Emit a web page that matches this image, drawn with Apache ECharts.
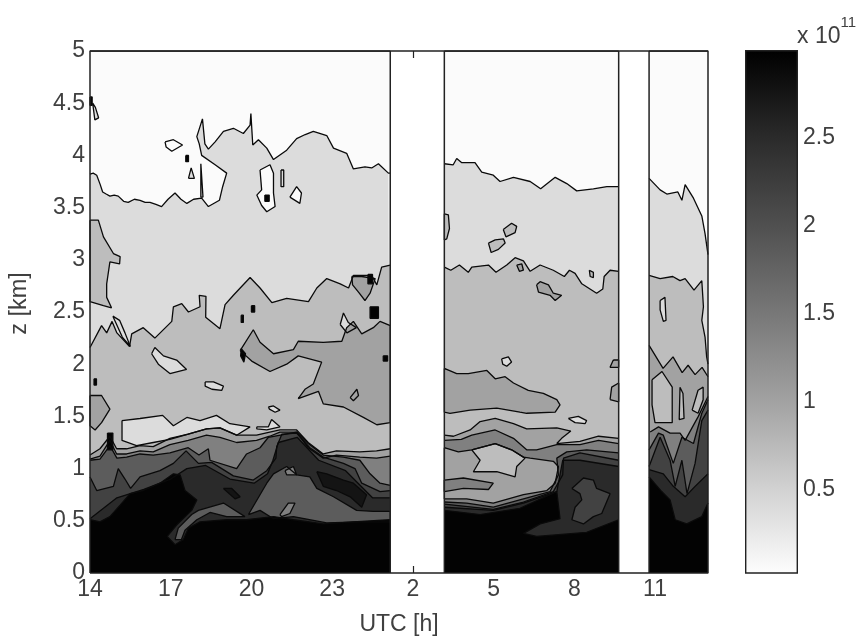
<!DOCTYPE html>
<html><head><meta charset="utf-8">
<style>html,body{margin:0;padding:0;background:#fff}#c{width:860px;height:636px}</style>
<script src="https://cdn.jsdelivr.net/npm/echarts@6/dist/echarts.min.js"></script>
</head><body><div id="c"></div>
<script>
const tickHours=[14,17,20,23,26,29,32,35];
const tickLabels=['14','17','20','23','2','5','8','11'];
const zTicks=[0,0.5,1,1.5,2,2.5,3,3.5,4,4.5,5];
const cbarTicks=[0.5,1,1.5,2,2.5];
const tMax=36.97;
const levelColors=['#fbfbfb','#dcdcdc','#bdbdbd','#a2a2a2','#808080','#5c5c5c','#424242','#2a2a2a','#141414','#030303'];

const topLayer=[[[14,5],[25.16,5]],[[27.17,5],[33.65,5]],[[34.78,5],[36.97,5]]];
const contour1=[
[[14,3.82],[14.12,3.83],[14.25,3.81],[14.38,3.72],[14.47,3.65],[14.6,3.63],[14.74,3.61],[14.9,3.62],[15.05,3.61],[15.25,3.56],[15.42,3.55],[15.65,3.58],[15.86,3.57],[16.05,3.55],[16.23,3.55],[16.45,3.53],[16.66,3.51],[16.9,3.58],[17.16,3.64],[17.38,3.58],[17.6,3.54],[17.85,3.58],[18.15,3.59],[18.4,3.51],[18.81,3.57],[18.93,3.7],[19.08,3.83],[18.65,3.91],[18.15,4.0],[18.06,4.11],[17.97,4.18],[18.18,4.35],[18.27,4.11],[18.4,4.06],[18.65,4.13],[18.96,4.23],[19.33,4.26],[19.7,4.21],[19.95,4.29],[19.98,4.4],[20.05,4.1],[20.26,4.15],[20.57,4.07],[20.82,3.96],[21.31,4.05],[21.68,4.16],[22,4.2],[22.3,4.23],[22.8,4.19],[23.05,4.07],[23.54,4.02],[23.79,3.87],[24.22,3.89],[24.47,3.88],[24.72,3.92],[25.09,3.83],[25.16,3.83]],
[[27.17,3.92],[27.5,3.91],[27.63,3.97],[27.82,3.93],[28.31,3.93],[28.56,3.84],[28.99,3.81],[29.24,3.75],[29.74,3.79],[30.36,3.75],[30.75,3.68],[31.29,3.79],[31.72,3.73],[32.09,3.66],[32.71,3.68],[33.21,3.7],[33.65,3.7]],
[[34.78,3.78],[35.19,3.67],[35.44,3.63],[35.85,3.65],[36,3.57],[36.12,3.72],[36.43,3.59],[36.74,3.42],[36.86,3.25],[36.97,3.05]]];
const contour2=[
[[14,2.16],[14.43,2.37],[14.62,2.3],[14.82,2.41],[15,2.3],[15.47,2.17],[15.55,2.29],[15.98,2.35],[16.41,2.25],[17.04,2.41],[17.1,2.55],[17.41,2.58],[17.66,2.5],[18.09,2.55],[18.06,2.66],[18.31,2.65],[18.3,2.45],[18.83,2.34],[19.02,2.57],[19.33,2.66],[19.95,2.83],[20.32,2.73],[20.76,2.59],[21.31,2.63],[22.12,2.6],[22.43,2.73],[22.8,2.82],[23.3,2.77],[23.61,2.73],[23.79,2.85],[24.47,2.85],[24.66,2.76],[24.84,2.93],[25.16,2.95]],
[[27.17,2.93],[27.41,2.9],[27.73,2.95],[28.06,2.88],[28.19,2.93],[28.81,2.95],[29.09,2.88],[29.49,2.95],[29.8,3.02],[30.11,2.99],[30.36,2.89],[30.73,2.95],[31.22,2.9],[31.63,2.84],[31.82,2.9],[32.03,2.87],[32.28,2.77],[32.83,2.68],[33.06,2.72],[33.11,2.84],[33.33,2.9],[33.65,2.89]],
[[34.78,2.85],[35.19,2.82],[35.66,2.84],[35.93,2.8],[36.12,2.82],[36.45,2.71],[36.74,2.8],[36.8,2.55],[36.74,2.42],[36.86,2.26],[36.92,2.07],[36.97,2.0]]];
const contour3=[
[[14,1.13],[14.37,1.19],[14.74,1.31],[14.99,1.19],[15.36,1.19],[15.86,1.22],[16.35,1.21],[16.97,1.29],[17.65,1.33],[18.33,1.38],[18.83,1.39],[19.45,1.32],[20.19,1.32],[20.68,1.35],[21.06,1.37],[21.68,1.37],[22.11,1.25],[22.67,1.14],[23.16,1.17],[24.03,1.16],[24.65,1.17],[25.16,1.19]],
[[27.17,1.32],[27.51,1.31],[28.13,1.37],[28.5,1.45],[29.06,1.48],[29.74,1.43],[30.23,1.38],[31.35,1.39],[31.87,1.36],[31.53,1.29],[31.35,1.24],[32.21,1.26],[32.9,1.31],[33.65,1.29]],
[[34.78,2.18],[35.3,1.96],[35.67,2.07],[36.01,1.92],[36.23,1.99],[36.49,1.9],[36.75,1.97],[36.97,1.88]]];
const contour4=[
[[14,1.09],[14.37,1.12],[14.74,1.27],[14.99,1.14],[15.36,1.14],[15.86,1.17],[16.35,1.16],[16.97,1.23],[17.65,1.27],[18.33,1.32],[18.83,1.3],[19.45,1.25],[20.19,1.27],[20.68,1.31],[21.06,1.35],[21.68,1.35],[22.11,1.2],[22.67,1.1],[23.16,1.13],[24.03,1.11],[24.65,1.1],[25.16,1.12]],
[[27.17,1.27],[27.8,1.28],[28.19,1.32],[29.06,1.37],[29.74,1.29],[30.23,1.18],[30.6,1.18],[31.35,1.23],[32.21,1.23],[32.9,1.27],[33.65,1.24]],
[[34.82,1.35],[35.13,1.4],[35.56,1.34],[35.93,1.34],[36.12,1.27],[36.61,1.5],[36.97,1.69]]];
const contour5=[
[[14,1.08],[14.37,1.09],[14.74,1.22],[15,1.1],[15.36,1.11],[15.86,1.14],[16.35,1.13],[16.97,1.15],[17.65,1.2],[18.05,1.13],[18.4,1.19],[18.46,1.08],[19.45,1.0],[19.82,1.14],[20.32,1.2],[20.63,1.3],[21.68,1.35],[22.11,1.24],[22.67,1.13],[23.42,1.11],[24.03,1.08],[24.41,0.95],[24.78,0.86],[25.16,0.84]],
[[27.17,0.68],[28,0.67],[28.99,0.63],[30.11,0.71],[31.1,0.78],[31.41,0.94],[31.35,1.1],[31.72,1.16],[32.46,1.18],[33.65,1.15]],
[[34.78,1.18],[35.13,1.34],[35.31,1.32],[35.68,1.05],[36,1.3],[36.43,1.24],[36.74,1.53],[36.97,1.66]]];
const contour6=[
[[14,0.92],[14.25,0.79],[14.87,0.83],[15.05,1.0],[15.3,0.9],[15.51,0.81],[15.86,0.92],[16.6,0.98],[17.1,1.05],[17.57,1.17],[18.03,1.05],[18.52,1.06],[19.33,0.93],[20.07,0.89],[20.57,0.98],[20.91,1.1],[20.94,1.21],[21.13,1.33],[21.68,1.34],[22.17,1.2],[22.67,1.11],[23.42,1.05],[23.85,1.0],[24.1,0.86],[24.78,0.78],[25.16,0.79]],
[[27.17,0.66],[28.99,0.61],[30.11,0.68],[31.22,0.78],[31.57,0.94],[31.6,1.1],[32.21,1.15],[33.65,1.08]],
[[34.78,1.02],[35.19,1.3],[35.56,1.08],[35.75,0.83],[36,1.08],[36.19,0.76],[36.49,1.05],[36.74,1.46],[36.97,1.56]]];
const contour7=[
[[14,0.52],[15,0.72],[16,0.8],[17,0.9],[17.6,1.0],[18.3,1.03],[19.2,0.9],[20.1,0.86],[20.6,0.95],[20.8,1.08],[21,1.25],[21.7,1.3],[22.5,1.08],[23.5,0.98],[24.5,0.72],[25.16,0.72]],
[[27.17,0.63],[28.99,0.6],[30.11,0.67],[31.35,0.78],[31.57,1.08],[32.21,1.08],[33.65,1.02]],
[[34.78,0.99],[35.31,0.95],[35.68,0.83],[36.12,0.73],[36.49,0.83],[36.97,0.95]]];
const contour9=[
[[14,0.51],[14.37,0.49],[14.74,0.54],[15.12,0.65],[15.49,0.76],[15.98,0.79],[16.6,0.86],[17.1,0.95],[17.35,0.94],[17.53,0.79],[17.97,0.7],[17.78,0.6],[17.22,0.46],[16.87,0.35],[17.16,0.27],[17.47,0.32],[17.66,0.43],[18.09,0.49],[19.08,0.51],[19.82,0.51],[20.82,0.54],[21.56,0.51],[22.67,0.47],[23.79,0.49],[25.16,0.51]],
[[27.17,0.6],[28.5,0.56],[29.98,0.62],[31.1,0.75],[31.35,0.78],[31.47,0.52],[30.73,0.47],[30.11,0.38],[30.6,0.35],[32.46,0.39],[33.65,0.51]],
[[34.78,0.92],[35.25,0.78],[35.56,0.7],[35.75,0.51],[36.18,0.47],[36.74,0.54],[36.97,0.67]]];

const patches0=[
[[16.79,4.13],[17.1,4.15],[17.44,4.1],[17.04,4.04],[16.83,4.08]],
[[20.32,3.86],[20.69,3.91],[20.82,3.83],[20.82,3.64],[20.88,3.51],[20.57,3.46],[20.38,3.52],[20.2,3.62],[20.38,3.67]],
[[21.43,3.6],[21.68,3.7],[21.86,3.64],[21.8,3.54]]];
const patches1=[
[[14.1,4.5],[14.2,4.46],[14.32,4.36],[14.18,4.34]],
[[17.66,3.78],[17.76,3.88],[17.88,3.78]],
[[18.12,3.92],[18.18,3.92],[18.2,3.6],[18.12,3.6]],
[[21.1,3.86],[21.2,3.86],[21.2,3.7],[21.1,3.7]],
[[14.85,2.46],[15.1,2.42],[15.3,2.3],[15.5,2.17],[15.2,2.26]],
[[23.3,2.38],[23.42,2.49],[23.6,2.4],[23.9,2.35],[23.55,2.3]],
[[16.29,2.1],[16.41,2.16],[16.73,2.08],[17.22,2.04],[17.59,1.95],[16.97,1.91],[16.54,2.0]],
[[18.28,1.83],[18.59,1.83],[18.96,1.79],[18.9,1.75],[18.53,1.76],[18.28,1.79]],
[[20.63,1.59],[20.82,1.6],[21.06,1.56],[20.88,1.54],[20.67,1.57]],
[[20.2,1.4],[20.63,1.4],[20.75,1.47],[21.06,1.4],[20.57,1.37],[20.2,1.38]],
[[15.19,1.46],[15.86,1.48],[16.7,1.51],[17.1,1.41],[17.6,1.49],[18.09,1.46],[18.7,1.51],[19.2,1.43],[19.95,1.4],[19.45,1.32],[18.83,1.39],[18.33,1.38],[17.65,1.33],[16.97,1.28],[16.35,1.25],[15.73,1.22],[15.19,1.27]],
[[23.67,1.68],[23.92,1.76],[23.98,1.7],[23.79,1.65]],
[[29.3,2.05],[29.55,2.07],[29.67,2.02],[29.49,1.98],[29.34,2.0]],
[[31.78,1.48],[32.15,1.5],[32.46,1.46],[32.4,1.43],[32.03,1.44]],
[[35.19,2.61],[35.37,2.64],[35.41,2.42],[35.31,2.41],[35.19,2.52]]];
const patches2=[
[[27.17,3.44],[27.32,3.43],[27.36,3.3],[27.26,3.2],[27.17,3.19]],
[[29.36,3.29],[29.67,3.35],[29.86,3.32],[29.8,3.26],[29.46,3.22]],
[[28.81,3.16],[29.06,3.19],[29.37,3.2],[29.43,3.16],[29.18,3.1],[28.91,3.07]],
[[32.56,2.9],[32.71,2.88],[32.71,2.83],[32.59,2.84]],
[[14,3.38],[14.31,3.38],[14.5,3.22],[14.87,3.06],[15.12,3.03],[15.1,2.96],[14.74,2.98],[14.62,2.77],[14.62,2.64],[14.8,2.54],[14.5,2.56],[14,2.6]]];
const patches3=[
[[23.73,2.84],[24.1,2.84],[24.6,2.82],[24.41,2.68],[24.22,2.61],[23.98,2.69],[23.76,2.76]],
[[14,1.7],[14.43,1.7],[14.74,1.57],[14.43,1.44],[14.19,1.37],[14,1.41]],
[[19.58,2.13],[20.07,2.33],[20.32,2.21],[20.82,2.1],[21.56,2.14],[21.74,2.22],[22.67,2.21],[23.36,2.22],[23.54,2.35],[23.79,2.41],[24.1,2.29],[24.53,2.35],[24.78,2.41],[25.16,2.37],[25.16,1.44],[24.66,1.42],[24.16,1.49],[23.42,1.59],[22.67,1.62],[22.49,1.74],[21.74,1.67],[21.99,1.76],[22.3,1.81],[22.61,2.02],[21.74,2.08],[21.31,2.0],[20.69,1.93],[20.01,2.03]],
[[27.17,1.96],[27.63,1.91],[28.06,1.91],[28.75,1.94],[29.06,1.86],[29.43,1.88],[29.74,1.82],[30.29,1.75],[30.85,1.72],[31.35,1.66],[31.47,1.61],[31.29,1.54],[30.23,1.53],[29.98,1.54],[29.12,1.58],[28.13,1.56],[27.38,1.53],[27.17,1.54]],
[[29.86,2.95],[30.05,2.96],[30.11,2.9],[29.96,2.89]],
[[30.6,2.76],[30.73,2.79],[31.04,2.76],[31.22,2.68],[31.53,2.66],[31.29,2.61],[31.1,2.66],[30.67,2.69]],
[[33.45,2.04],[33.65,2.04],[33.65,1.97],[33.33,1.97]],
[[33.33,1.66],[33.39,1.78],[33.65,1.82],[33.65,1.64]]];
const patchesOnLevel3=[
[[34.89,1.85],[35.26,1.93],[35.64,1.78],[35.64,1.44],[35,1.44],[34.89,1.61]],
[[35.93,1.78],[36.04,1.72],[36.08,1.48],[35.9,1.47]],
[[36.38,1.56],[36.6,1.75],[36.79,1.78],[36.79,1.66],[36.6,1.53]]];
const inner5=[
[[19.89,0.56],[20.57,0.86],[20.82,0.95],[21.31,1.02],[21.68,0.94],[22.17,0.92],[22.43,0.81],[23.05,0.73],[23.91,0.6],[24.53,0.59],[25.16,0.59],[25.16,0.49],[24.03,0.49],[22.8,0.48],[21.56,0.54],[20.82,0.52],[20.32,0.6]]];
const inner6=[
[[31.91,0.81],[32.34,0.91],[32.71,0.89],[32.83,0.81],[33.33,0.76],[33.02,0.57],[32.71,0.54],[32.34,0.47],[31.91,0.51],[32.03,0.63],[32.28,0.7],[32.21,0.76]]];
const inner3=[
[[27.17,1.2],[27.69,1.16],[28.19,1.18],[29.06,1.24],[29.67,1.18],[30.11,1.11],[30.36,1.1],[31.22,1.07],[31.41,1.02],[31.29,0.86],[30.98,0.79],[30.11,0.75],[28.99,0.67],[28,0.71],[27.17,0.71]]];
const inner2=[
[[28.19,1.18],[29.06,1.24],[29.67,1.18],[30.17,1.1],[29.86,1.02],[29.8,0.92],[29.12,0.97],[28.25,0.97],[28.5,1.08]]];
const inner4=[
[[27.17,0.89],[27.88,0.91],[28.99,0.86],[28.81,0.8],[27.88,0.81],[27.17,0.78]],
[[21.06,0.56],[21.37,0.67],[21.62,0.67],[21.43,0.57],[21.12,0.54]],
[[21.25,0.98],[21.56,1.02],[21.68,0.94],[21.31,0.94]]];
const inner8=[
[[22.43,0.97],[22.8,0.95],[23.42,0.89],[23.79,0.86],[24.28,0.75],[24.1,0.63],[23.67,0.73],[23.16,0.79],[22.67,0.83]],
[[18.96,0.81],[19.27,0.81],[19.58,0.73],[19.39,0.71]]];
const ringBand=[
[[17.16,0.32],[17.28,0.43],[17.78,0.56],[18.03,0.6],[18.96,0.67],[19.76,0.54],[19.08,0.54],[18.46,0.58],[17.97,0.51],[17.53,0.41],[17.4,0.32]]];
const specks=[
[[24.33,2.86],[24.5,2.86],[24.5,2.77],[24.33,2.77]],
[[24.41,2.55],[24.72,2.55],[24.72,2.44],[24.41,2.44]],
[[17.56,4.0],[17.66,4.0],[17.66,3.94],[17.56,3.94]],
[[19.62,2.47],[19.7,2.47],[19.7,2.4],[19.62,2.4]],
[[20.0,2.56],[20.12,2.56],[20.12,2.5],[20.0,2.5]],
[[19.62,2.15],[19.78,2.1],[19.72,2.02],[19.6,2.08]],
[[20.5,3.62],[20.66,3.62],[20.66,3.56],[20.5,3.56]],
[[14,4.56],[14.08,4.56],[14.08,4.48],[14,4.48]],
[[24.9,2.08],[25.06,2.08],[25.06,2.03],[24.9,2.03]],
[[14.15,1.86],[14.24,1.86],[14.24,1.8],[14.15,1.8]],
[[14.65,1.34],[14.85,1.34],[14.85,1.18],[14.65,1.18]]];
const gapEdges=[[[25.16,0],[25.16,5]],[[27.17,0],[27.17,5]],[[33.65,0],[33.65,5]],[[34.78,0],[34.78,5]]];
const frame=[[[14,0],[14,5],[36.97,5],[36.97,0],[14,0]]];
const colorbarStops=[[0,'#000000'],[0.165,'#2a2a2a'],[0.337,'#505050'],[0.505,'#787878'],[0.672,'#a2a2a2'],[0.84,'#d2d2d2'],[1,'#fdfdfd']];
const colorbarMin=0.028, colorbarMax=2.995;

const fmt='Liberation Sans', grey='#404040';
const join=(pieces,close)=>{const out=[];pieces.forEach(p=>{out.push(...p);if(close)out.push(p[0]);out.push([null,null]);});return out;};
const area=(name,lvl,pieces,close)=>({name,type:'line',xAxisIndex:0,yAxisIndex:0,data:join(pieces,close),symbol:'none',silent:true,connectNulls:false,
  lineStyle:{color:'#0a0a0a',width:1.3},areaStyle:{color:levelColors[lvl],opacity:1,origin:'start'},animation:false});
const stroke=(name,pieces,w)=>({name,type:'line',xAxisIndex:0,yAxisIndex:0,data:join(pieces,false),symbol:'none',silent:true,clip:false,lineStyle:{color:'#222',width:w},animation:false});

const series=[
 area('top',0,topLayer),area('c1',1,contour1),area('c2',2,contour2),
 area('p0',0,patches0,true),area('p1',1,patches1,true),area('p2',2,patches2,true),area('p3',3,patches3,true),
 area('c3',3,contour3),area('pl3',2,patchesOnLevel3,true),
 area('c4',4,contour4),area('c5',5,contour5),area('c6',6,contour6),area('c7',7,contour7),
 area('i5',5,inner5,true),area('i6',6,inner6,true),area('i3',3,inner3,true),area('i2',2,inner2,true),area('i4',4,inner4,true),area('i8',8,inner8,true),
 area('c9',9,contour9),area('ring',5,ringBand,true),area('specks',9,specks,true),
 stroke('gaps',gapEdges,1.5),stroke('frame',frame,1.5),
 {name:'colorbar',type:'bar',xAxisIndex:1,yAxisIndex:1,data:[colorbarMax],barWidth:'100%',silent:true,animation:false,
  itemStyle:{borderColor:'#222',borderWidth:1.4,color:{type:'linear',x:0,y:0,x2:0,y2:1,colorStops:colorbarStops.map(s=>({offset:s[0],color:s[1]}))}}}
];

const chart=echarts.init(document.getElementById('c'),null,{renderer:'canvas'});
const tick={show:true,inside:true,length:7,customValues:[26],lineStyle:{color:'#222',width:1.2}};
chart.setOption({
 animation:false,backgroundColor:'#fff',
 title:{text:'x 10{s|11}',left:792,top:10,textStyle:{fontFamily:fmt,fontSize:23,fontWeight:'normal',color:grey,rich:{s:{fontFamily:fmt,fontSize:15,color:grey,padding:[0,0,28,0]}}}},
 grid:[{left:90,top:51,width:618,height:522,outerBoundsMode:'none'},{left:745,top:50,width:53,height:523,outerBoundsMode:'none'}],
 xAxis:[
  {type:'value',gridIndex:0,min:14,max:tMax,name:'UTC [h]',nameLocation:'middle',nameGap:40,
   nameTextStyle:{fontFamily:fmt,fontSize:23,color:grey},splitLine:{show:false},axisLine:{show:false},axisTick:tick,
   axisLabel:{customValues:tickHours,formatter:v=>tickLabels[tickHours.indexOf(v)],fontFamily:fmt,fontSize:23,color:grey,margin:5}},
  {type:'category',gridIndex:1,data:[''],show:false},
  {type:'value',gridIndex:0,position:'top',min:14,max:tMax,splitLine:{show:false},axisLine:{show:false},axisTick:tick,axisLabel:{show:false}}],
 yAxis:[
  {type:'value',gridIndex:0,min:0,max:5,interval:0.5,name:'z [km]',nameLocation:'middle',nameGap:58,
   nameTextStyle:{fontFamily:fmt,fontSize:23.5,color:grey,padding:[0,0,0,17]},splitLine:{show:false},axisLine:{show:false},axisTick:{show:false},
   axisLabel:{customValues:zTicks,fontFamily:fmt,fontSize:23,color:grey,margin:5}},
  {type:'value',gridIndex:1,position:'right',min:colorbarMin,max:colorbarMax,z:6,splitLine:{show:false},axisLine:{show:false},
   axisTick:{inside:true,length:6,customValues:cbarTicks,lineStyle:{color:'#222',width:1.2}},
   axisLabel:{customValues:cbarTicks,fontFamily:fmt,fontSize:23,color:grey,margin:5}},
  {type:'value',gridIndex:1,position:'left',min:colorbarMin,max:colorbarMax,z:6,splitLine:{show:false},axisLine:{show:false},
   axisTick:{inside:true,length:6,customValues:cbarTicks,lineStyle:{color:'#222',width:1.2}},axisLabel:{show:false}}],
 series
});
</script></body></html>
